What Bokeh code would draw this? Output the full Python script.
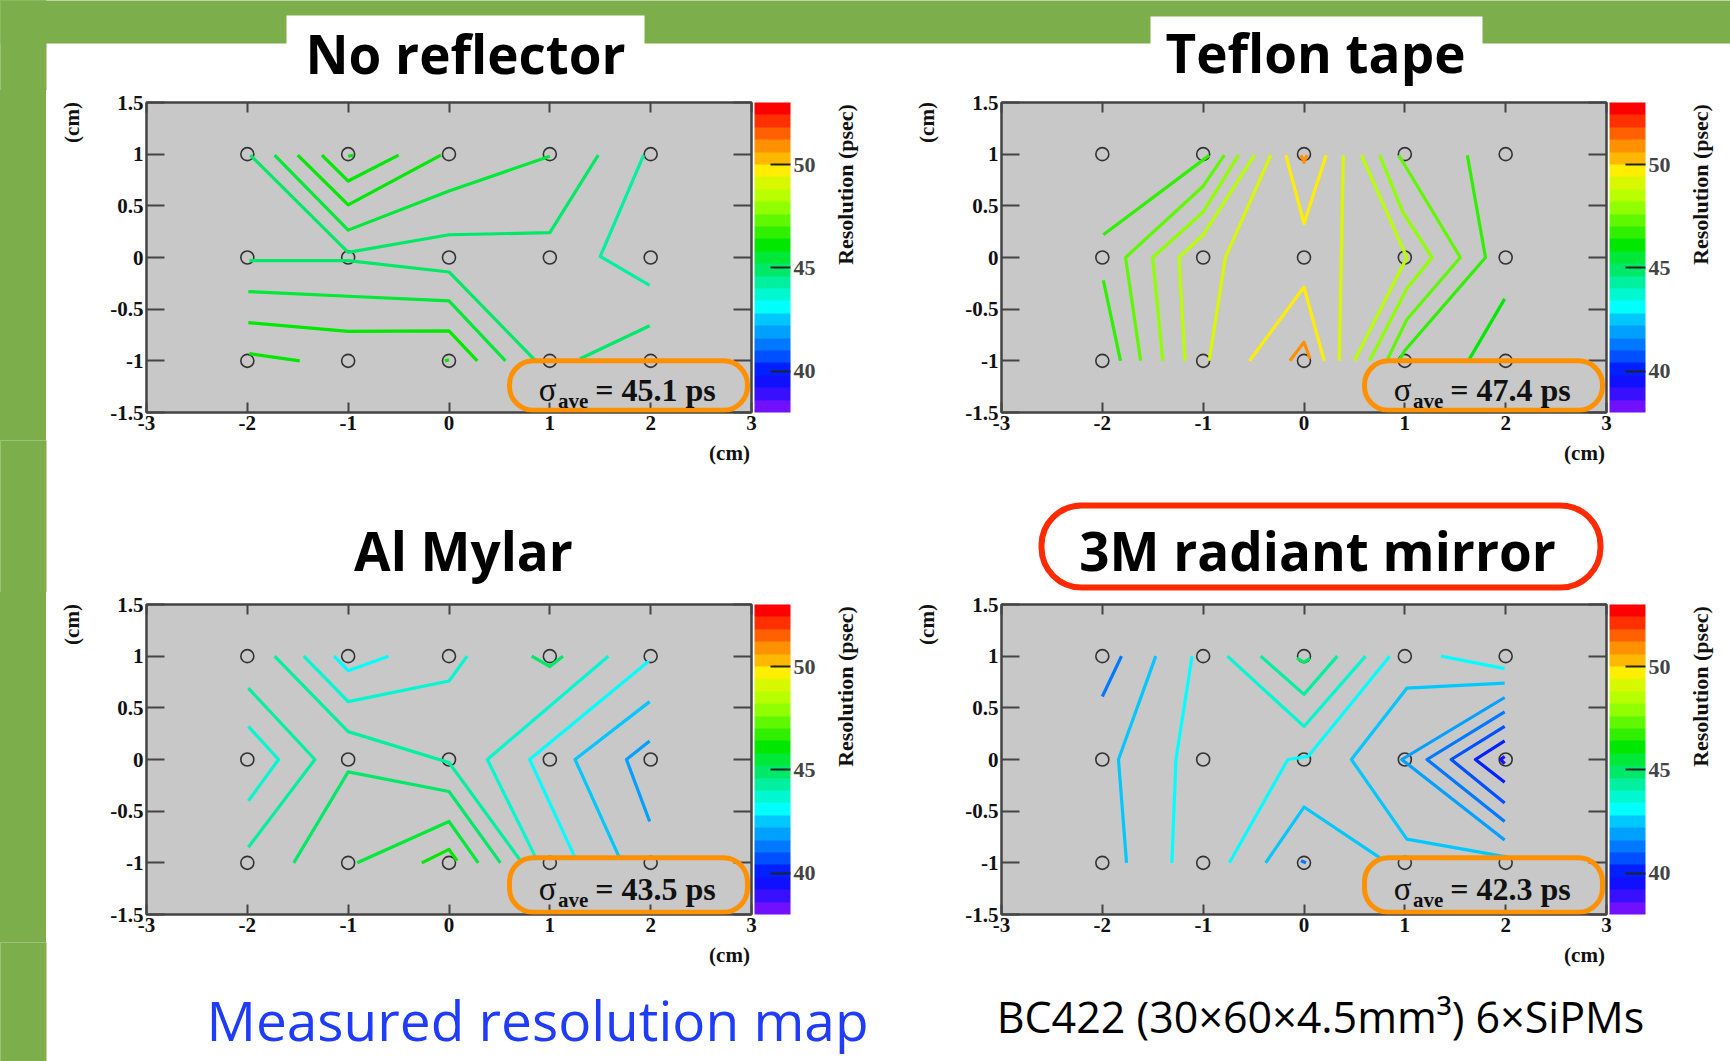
from bokeh.plotting import figure
from bokeh.models import (Range1d, LinearAxis, FixedTicker, CustomJSTickFormatter,
                          BoxAnnotation, Label, ColorBar, LinearColorMapper, ColumnDataSource)
from bokeh.layouts import column, row
from bokeh.transform import linear_cmap
from bokeh.core.properties import value
from bokeh.embed import file_html
from bokeh.resources import INLINE

# ---------------- data ----------------
PALETTE = ["#7010ff", "#3810ff", "#1010ff", "#0020ff", "#0050ff", "#0078ff", "#00a0ff",
           "#00c8ff", "#00ffff", "#00f8d0", "#00f0a0", "#00e868", "#00e838", "#00e800",
           "#30f000", "#60f800", "#90ff00", "#b8ff00", "#d8f800", "#ffee00", "#ffb800",
           "#ff9000", "#ff6000", "#ff3000", "#ff0000"]
RES_LOW, RES_HIGH = 38, 53
CB_TICKS = [40, 45, 50]
X_TICKS = [-3, -2, -1, 0, 1, 2, 3]
Y_TICKS = [-1.5, -1, -0.5, 0, 0.5, 1, 1.5]

GRID_X = [-2, -1, 0, 1, 2, -2, -1, 0, 1, 2, -2, -1, 0, 1, 2]
GRID_Y = [1, 1, 1, 1, 1, 0, 0, 0, 0, 0, -1, -1, -1, -1, -1]

TITLES = ["No reflector", "Teflon tape", "Al Mylar", "3M radiant mirror"]
SIGMA_AVE = [45.1, 47.4, 43.5, 42.3]
AXIS_UNIT = "(cm)"
CB_TITLE = "Resolution (psec)"
CAPTION_LEFT = "Measured resolution map"
CAPTION_RIGHT = "BC422 (30×60×4.5mm³) 6×SiPMs"

# No reflector contours
NOREF_LEVEL = [44.7, 45.4, 46.0, 46.3, 46.3, 44.3, 44.7, 44.7, 45.4, 45.9, 46.0, 46.2]
NOREF_XS = [[-1.97, -1.0, 0.0, 1.0, 1.48], [-1.73, -1.0, 0.0, 1.0], [-1.5, -1.0, -0.08],
            [-1.26, -1.0, -0.5], [-1.0, -0.95], [1.93, 1.5, 1.99],
            [-1.98, -1.0, 0.0, 0.86], [1.3, 1.99], [-1.99, -1.0, 0.0, 0.56],
            [-1.99, -1.0, 0.0, 0.28], [-1.98, -1.48], [-0.04, 0.0]]
NOREF_YS = [[0.99, 0.05, 0.22, 0.24, 0.99], [0.99, 0.265, 0.644, 0.98], [0.99, 0.51, 0.99],
            [0.99, 0.74, 0.99], [0.98, 0.99], [0.99, 0.01, -0.27],
            [-0.03, -0.03, -0.14, -1.0], [-0.98, -0.66], [-0.33, -0.375, -0.42, -1.0],
            [-0.63, -0.715, -0.71, -1.0], [-0.93, -1.0], [-1.0, -0.99]]

# Teflon tape contours
TEFLON_LEVEL = [46.6, 46.6, 47.4, 48.0, 48.6, 49.2, 49.9, 50.7, 49.9, 50.7,
                49.2, 48.4, 47.8, 47.2, 46.6, 46.4]
TEFLON_XS = [[-1.99, -1.82], [-1.99, -1.0, -0.94], [-1.62, -1.77, -1.0, -0.79],
             [-1.4, -1.5, -1.0, -0.65], [-1.18, -1.24, -1.0, -0.49], [-0.94, -0.78, -0.33],
             [-0.18, 0.0, 0.22], [-0.03, 0.0, 0.03], [-0.54, 0.0, 0.2], [-0.14, 0.0, 0.06],
             [0.35, 0.39], [0.57, 1.02, 0.5], [0.75, 0.98, 1.27, 1.02, 0.65],
             [0.94, 1.55, 1.02, 0.82], [1.62, 1.8, 1.0, 0.94], [1.99, 1.63]]
TEFLON_YS = [[-0.22, -1.0], [0.22, 0.945, 0.99], [-1.0, 0.0, 0.69, 0.99],
             [-1.0, 0.0, 0.44, 0.99], [-1.0, 0.0, 0.22, 0.99], [-1.0, 0.0, 0.99],
             [0.99, 0.33, 0.99], [0.99, 0.92, 0.99], [-1.0, -0.285, -1.0], [-1.0, -0.82, -0.98],
             [-1.0, 0.99], [0.99, 0.0, -1.0], [0.99, 0.44, 0.0, -0.3, -1.0],
             [0.99, 0.0, -0.6, -1.0], [0.99, 0.0, -0.9, -1.0], [-0.4, -1.0]]

# Al Mylar contours
MYLAR_LEVEL = [43.0, 43.6, 44.2, 44.1, 43.6, 44.9, 45.5, 46.0, 45.0, 43.6, 43.0, 42.5, 41.9]
MYLAR_XS = [[-1.14, -1.0, -0.6], [-1.44, -1.0, 0.0, 0.18], [-1.73, -1.0, 0.0, 0.71],
            [-1.99, -1.33, -1.99], [-1.99, -1.69, -1.99], [-1.54, -1.0, 0.0, 0.51],
            [-0.91, 0.0, 0.29], [-0.27, 0.0, 0.08], [0.82, 1.0, 1.13],
            [1.58, 0.38, 0.86], [1.98, 0.8, 1.25], [1.99, 1.25, 1.69], [1.99, 1.76, 1.99]]
MYLAR_YS = [[1.0, 0.86, 1.0], [1.0, 0.56, 0.76, 1.0], [1.0, 0.27, -0.03, -0.98],
            [0.69, 0.0, -0.85], [0.32, 0.0, -0.4], [-1.0, -0.12, -0.31, -1.0],
            [-1.0, -0.6, -1.0], [-1.0, -0.87, -0.98], [1.0, 0.9, 1.0],
            [1.0, 0.0, -0.95], [0.95, 0.0, -0.95], [0.56, 0.0, -0.95], [0.18, 0.0, -0.6]]

# 3M radiant mirror contours
MIRROR_LEVEL = [41.4, 42.3, 42.9, 43.6, 44.3, 44.9, 43.0, 42.3, 43.0, 42.3,
                41.8, 41.2, 40.6, 40.0, 39.5, 41.4]
MIRROR_XS = [[-1.81, -2.0], [-1.47, -1.84, -1.76], [-1.11, -1.27, -1.31],
             [-0.76, 0.0, 0.61], [-0.43, 0.0, 0.33], [-0.07, 0.0, 0.06],
             [0.85, 0.04, -0.16, -0.74], [-0.38, 0.0, 0.75], [1.36, 1.99],
             [1.99, 1.02, 0.47, 1.02, 1.99], [1.99, 0.97, 1.99], [1.99, 1.22, 1.99],
             [1.99, 1.46, 1.99], [1.99, 1.7, 1.99], [1.99, 1.95, 1.99], [-0.03, 0.02]]
MIRROR_YS = [[1.0, 0.61], [1.0, 0.0, -1.0], [1.0, 0.0, -1.0],
             [1.0, 0.32, 1.0], [1.0, 0.63, 1.0], [0.98, 0.94, 0.98],
             [1.0, 0.03, 0.0, -1.0], [-1.0, -0.46, -0.95], [1.0, 0.88],
             [0.74, 0.69, 0.0, -0.77, -0.94], [0.6, 0.0, -0.78], [0.46, 0.0, -0.6],
             [0.32, 0.0, -0.42], [0.18, 0.0, -0.22], [0.03, 0.0, -0.04], [-0.98, -1.0]]

# ---------------- style ----------------
GREEN = "#7cae4c"
SERIF = "Liberation Serif"
SANS = "Open Sans"
FW, FH = 605, 310
BL_, BR_, BT_, BB_ = 46, 71, 12, 28      # panel borders
W = 1730
BASE_SHIFT = 0.36                        # em; compensates the renderer's alphabetic offset
LEFT_BG = "linear-gradient(to right, %s 0px, %s 46px, white 46px, white 100%%)" % (GREEN, GREEN)


def style_axis(ax, tick_in, labels=True):
    ax.major_tick_in = tick_in
    ax.major_tick_out = 0
    ax.minor_tick_line_color = None
    ax.axis_line_color = "#444444"
    ax.axis_line_width = 2
    ax.major_tick_line_color = "#444444"
    ax.major_tick_line_width = 2
    ax.major_label_text_font = SERIF
    ax.major_label_text_font_style = "bold"
    if labels:
        ax.major_label_standoff = 3
        ax.major_label_text_font_size = "21px"
        ax.major_label_text_color = "#111111"
        ax.formatter = CustomJSTickFormatter(code="return String(tick);")
    else:
        ax.major_label_standoff = 0
        ax.major_label_text_font_size = "1px"
        ax.major_label_text_color = None


def make_panel(idx, xs, ys, levels, top_row):
    p = figure(frame_width=FW, frame_height=FH, min_border_left=BL_, min_border_right=BR_,
               min_border_top=BT_, min_border_bottom=BB_,
               x_range=Range1d(-3, 3), y_range=Range1d(-1.5, 1.5),
               output_backend="svg", toolbar_location=None)
    p.grid.visible = False
    p.background_fill_color = "#c8c8c8"
    p.border_fill_color = "white"
    p.outline_line_color = "#444444"
    p.outline_line_width = 2
    p.xaxis.ticker = FixedTicker(ticks=X_TICKS)
    p.yaxis.ticker = FixedTicker(ticks=Y_TICKS)
    style_axis(p.xaxis[0], 10)
    style_axis(p.yaxis[0], 18)
    top = LinearAxis(ticker=FixedTicker(ticks=X_TICKS))
    style_axis(top, 10, labels=False)
    p.add_layout(top, "above")
    right = LinearAxis(ticker=FixedTicker(ticks=Y_TICKS))
    style_axis(right, 18, labels=False)
    p.add_layout(right, "right")

    p.scatter(GRID_X, GRID_Y, marker="circle", size=13, fill_color=None,
              line_color="#333333", line_width=1.6)
    src = ColumnDataSource(dict(xs=xs, ys=ys, level=levels))
    p.multi_line("xs", "ys", source=src, line_width=3.2, line_join="round",
                 line_color=linear_cmap("level", PALETTE, RES_LOW, RES_HIGH))

    mapper = LinearColorMapper(palette=PALETTE, low=RES_LOW, high=RES_HIGH)
    cb = ColorBar(color_mapper=mapper, location=(608, 0), width=36, height=FH,
                  padding=0, margin=0, ticker=FixedTicker(ticks=CB_TICKS),
                  major_tick_in=20, major_tick_out=0, major_tick_line_color="#222222",
                  major_tick_line_width=2, minor_tick_line_color=None,
                  major_label_text_font=SERIF, major_label_text_font_style="bold",
                  major_label_text_font_size="22px", label_standoff=3,
                  background_fill_alpha=0, border_line_color=None, bar_line_color=None)
    p.add_layout(cb)

    if top_row:
        btop, base = -1.0, -1.385
    else:
        btop, base = -0.95, -1.355
    px_per_unit = FH / 3.0
    p.add_layout(BoxAnnotation(left=0.6, right=2.96, top=btop, bottom=-1.478, fill_alpha=0,
                               line_color="#ff9000", line_alpha=1, line_width=5,
                               border_radius=24))
    p.add_layout(Label(x=0.89, y=base + 0.32 * 33 / px_per_unit, text="σ",
                       text_align="left", text_baseline="alphabetic", text_font=SERIF,
                       text_font_size="33px", text_color="#111111"))
    p.add_layout(Label(x=1.08, y=base - 0.065 + 0.32 * 21 / px_per_unit, text="ave",
                       text_align="left", text_baseline="alphabetic", text_font=SERIF,
                       text_font_style="bold", text_font_size="21px", text_color="#111111"))
    p.add_layout(Label(x=1.45, y=base + 0.32 * 32 / px_per_unit,
                       text="= %.1f ps" % SIGMA_AVE[idx], text_align="left",
                       text_baseline="alphabetic", text_font=SERIF, text_font_style="bold",
                       text_font_size="32px", text_color="#111111"))
    return p


def strip(x0, x1, fy0, fy1, bt=0, bb=0, color="white", css=None):
    """Decoration strip in page pixels; its frame spans page y fy0..fy1 (y down)."""
    s = figure(width=x1 - x0, height=bt + (fy1 - fy0) + bb, x_range=Range1d(x0, x1),
               y_range=Range1d(-fy1, -fy0), min_border_left=0, min_border_right=0,
               min_border_top=bt, min_border_bottom=bb, x_axis_location=None,
               y_axis_location=None, toolbar_location=None, output_backend="svg",
               styles={"background": css if css else color})
    s.outline_line_color = None
    s.background_fill_color = color
    s.border_fill_color = color
    s.grid.visible = False
    return s


def txt(s, x, y, t, size, font=SERIF, style="bold", color="#111111", align="center",
        baseline="alphabetic", angle=0.0):
    px = float(size.replace("px", ""))
    if baseline == "alphabetic":
        y = y - BASE_SHIFT * px
    s.text(x=[x], y=[-y], text=[t], text_font=value(font), text_font_size=value(size),
           text_font_style=value(style), text_color=value(color), text_align=value(align),
           text_baseline=value(baseline), angle=angle)


def rbox(s, l, r, t, b, fill, line, lw, radius):
    s.quad(left=[l], right=[r], top=[-t], bottom=[-b], fill_color=fill, line_color=line,
           line_width=lw, border_radius=radius)


def green_left(s, y0, y1):
    s.quad(left=[-20], right=[46], top=[-(y0 - 20)], bottom=[-(y1 + 20)], fill_color=GREEN,
           line_color=None)


# rows: S1 0-90, R1 90-440, S2 440-592, R2 592-942, S3 942-1061
S1 = strip(0, W, 0, 90, css=LEFT_BG)
S1.quad(left=[-20], right=[W + 20], top=[20], bottom=[-43], fill_color=GREEN, line_color=None)
green_left(S1, 0, 90)
rbox(S1, 286, 644, 15, 50, "white", None, 0, 0)
rbox(S1, 1150, 1482, 16, 50, "white", None, 0, 0)
txt(S1, 465, 72, TITLES[0], "53px", font=SANS, color="black")
txt(S1, 1315, 71, TITLES[1], "53px", font=SANS, color="black")


def panel_row(y0, pl, pr):
    fy0, fy1 = y0 + BT_, y0 + BT_ + FH
    lg = strip(0, 46, fy0, fy1, BT_, BB_, color=GREEN)
    green_left(lg, fy0, fy1)
    ls = strip(46, 100, fy0, fy1, BT_, BB_)
    ms = strip(822, 955, fy0, fy1, BT_, BB_)
    rs = strip(1677, W, fy0, fy1, BT_, BB_)
    txt(ls, 71, fy0 + 20, AXIS_UNIT, "21px", baseline="middle", angle=1.5708)
    txt(ms, 926, fy0 + 20, AXIS_UNIT, "21px", baseline="middle", angle=1.5708)
    txt(ms, 845, fy0 + 82, CB_TITLE, "22px", baseline="middle", angle=1.5708)
    txt(rs, 1700, fy0 + 82, CB_TITLE, "22px", baseline="middle", angle=1.5708)
    return row(lg, ls, pl, ms, pr, rs)


tl = make_panel(0, NOREF_XS, NOREF_YS, NOREF_LEVEL, True)
tr = make_panel(1, TEFLON_XS, TEFLON_YS, TEFLON_LEVEL, True)
bl = make_panel(2, MYLAR_XS, MYLAR_YS, MYLAR_LEVEL, False)
br = make_panel(3, MIRROR_XS, MIRROR_YS, MIRROR_LEVEL, False)

R1 = panel_row(90, tl, tr)
R2 = panel_row(592, bl, br)

S2 = strip(0, W, 440, 592, css=LEFT_BG)
green_left(S2, 440, 592)
txt(S2, 729, 452, AXIS_UNIT, "21px", baseline="middle")
txt(S2, 1584, 452, AXIS_UNIT, "21px", baseline="middle")
txt(S2, 463, 569, TITLES[2], "53px", font=SANS, color="black")
rbox(S2, 1041, 1600, 505, 587, "white", "#ff2a00", 6, 40)
txt(S2, 1317, 569, TITLES[3], "53px", font=SANS, color="black")

S3 = strip(0, W, 942, 1061, css=LEFT_BG)
green_left(S3, 942, 1061)
txt(S3, 729, 954, AXIS_UNIT, "21px", baseline="middle")
txt(S3, 1584, 954, AXIS_UNIT, "21px", baseline="middle")
txt(S3, 537, 1039, CAPTION_LEFT, "55px", font=SANS, style="normal", color="#1f3cfa")
txt(S3, 1320, 1031, CAPTION_RIGHT, "43px", font=SANS, style="normal", color="black")

layout = column(S1, R1, S2, R2, S3)
open("out.html", "w").write(file_html(layout, INLINE))
